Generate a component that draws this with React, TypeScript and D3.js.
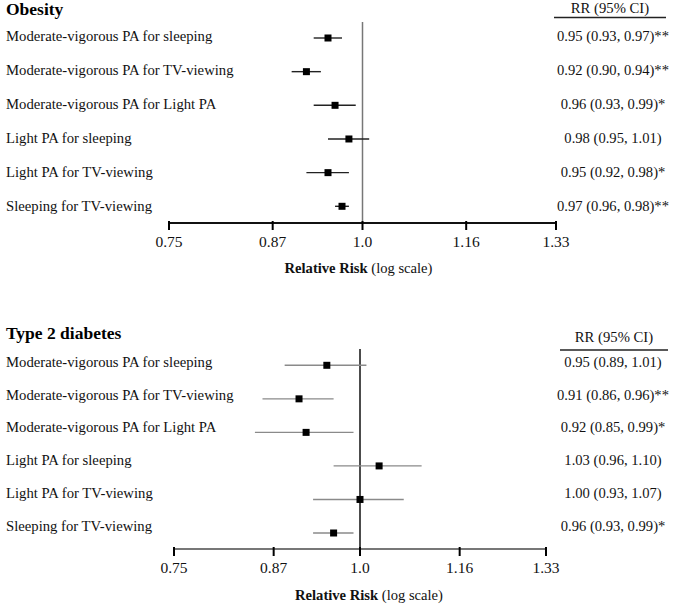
import React from "react";
import * as d3 from "d3";

const rowLabels = [
  "Moderate-vigorous PA for sleeping",
  "Moderate-vigorous PA for TV-viewing",
  "Moderate-vigorous PA for Light PA",
  "Light PA for sleeping",
  "Light PA for TV-viewing",
  "Sleeping for TV-viewing",
];

const obesityRR = [0.95, 0.92, 0.96, 0.98, 0.95, 0.97];
const obesityLo = [0.93, 0.9, 0.93, 0.95, 0.92, 0.96];
const obesityHi = [0.97, 0.94, 0.99, 1.01, 0.98, 0.98];
const obesityText = [
  "0.95 (0.93, 0.97)**",
  "0.92 (0.90, 0.94)**",
  "0.96 (0.93, 0.99)*",
  "0.98 (0.95, 1.01)",
  "0.95 (0.92, 0.98)*",
  "0.97 (0.96, 0.98)**",
];

const diabetesRR = [0.95, 0.91, 0.92, 1.03, 1.0, 0.96];
const diabetesLo = [0.89, 0.86, 0.85, 0.96, 0.93, 0.93];
const diabetesHi = [1.01, 0.96, 0.99, 1.1, 1.07, 0.99];
const diabetesText = [
  "0.95 (0.89, 1.01)",
  "0.91 (0.86, 0.96)**",
  "0.92 (0.85, 0.99)*",
  "1.03 (0.96, 1.10)",
  "1.00 (0.93, 1.07)",
  "0.96 (0.93, 0.99)*",
];

const tickValues = [0.75, 0.875, 1, 7 / 6, 4 / 3];
const tickLabels = ["0.75", "0.87", "1.0", "1.16", "1.33"];
const xDomain = [0.75, 4 / 3];

const FONT = "'Liberation Serif', 'Times New Roman', serif";

type PanelProps = {
  title: string;
  rr: number[];
  lo: number[];
  hi: number[];
  text: string[];
  xRange: [number, number];
  rowY0: number;
  rowY1: number;
  labelY0: number;
  labelY1: number;
  axisY: number;
  vTop: number;
  titleY: number;
  headerY: number;
  headerLineY: number;
  headerLine: [number, number];
  axisTitleX: number;
  axisTitleY: number;
  ciColor: string;
  vColor: string;
  axisColor: string;
};

function Panel(p: PanelProps) {
  const x = d3.scaleLog().domain(xDomain).range(p.xRange);
  const idx = d3.range(p.rr.length);
  const y = d3.scaleLinear().domain([0, p.rr.length - 1]).range([p.rowY0, p.rowY1]);
  const yl = d3.scaleLinear().domain([0, p.rr.length - 1]).range([p.labelY0, p.labelY1]);
  const ms = 7;
  const valX = 613;
  return (
    <g>
      <text x={6} y={p.titleY} fontFamily={FONT} fontWeight="bold" fontSize={17.5} fill="#000">
        {p.title}
      </text>
      <text x={(p.headerLine[0] + p.headerLine[1]) / 2} y={p.headerY} fontFamily={FONT} fontSize={14.7} textAnchor="middle" fill="#111">
        RR (95% CI)
      </text>
      <line x1={p.headerLine[0]} x2={p.headerLine[1]} y1={p.headerLineY} y2={p.headerLineY} stroke="#222" strokeWidth={1.3} />
      {idx.map((i) => (
        <text key={"l" + i} x={6} y={yl(i)} fontFamily={FONT} fontSize={14.7} fill="#111">
          {rowLabels[i]}
        </text>
      ))}
      {idx.map((i) => (
        <text key={"v" + i} x={valX} y={yl(i)} fontFamily={FONT} fontSize={14.6} textAnchor="middle" fill="#111">
          {p.text[i]}
        </text>
      ))}
      <line x1={x(1)} x2={x(1)} y1={p.vTop} y2={p.axisY} stroke={p.vColor} strokeWidth={1.5} />
      {idx.map((i) => (
        <g key={"m" + i}>
          <line x1={x(p.lo[i])} x2={x(p.hi[i])} y1={y(i)} y2={y(i)} stroke={p.ciColor} strokeWidth={1.4} />
          <rect x={x(p.rr[i]) - ms / 2} y={y(i) - ms / 2} width={ms} height={ms} fill="#000" />
        </g>
      ))}
      <line x1={p.xRange[0]} x2={p.xRange[1]} y1={p.axisY} y2={p.axisY} stroke={p.axisColor} strokeWidth={2} />
      {tickValues.map((t, i) => (
        <g key={"t" + i}>
          <line x1={x(t)} x2={x(t)} y1={p.axisY - 2} y2={p.axisY + 7} stroke="#000" strokeWidth={2} />
          <text x={x(t)} y={p.axisY + 24} fontFamily={FONT} fontSize={15.5} textAnchor="middle" fill="#111">
            {tickLabels[i]}
          </text>
        </g>
      ))}
      <text x={p.axisTitleX} y={p.axisTitleY} fontFamily={FONT} fontSize={14.6} textAnchor="middle" fill="#111">
        <tspan fontWeight="bold">Relative Risk</tspan>
        <tspan> (log scale)</tspan>
      </text>
    </g>
  );
}

export default function App() {
  return (
    <svg
      width={674}
      height={606}
      style={{ position: "absolute", left: 0, top: 0, background: "#fff" }}
    >
      <rect x={0} y={0} width={674} height={606} fill="#fff" />
      <Panel
        title="Obesity"
        rr={obesityRR}
        lo={obesityLo}
        hi={obesityHi}
        text={obesityText}
        xRange={[169, 556]}
        rowY0={38}
        rowY1={206.3}
        labelY0={40.7}
        labelY1={210.5}
        axisY={223}
        vTop={22}
        titleY={15}
        headerY={13}
        headerLine={[554, 666]}
        headerLineY={17.5}
        axisTitleX={358.5}
        axisTitleY={273}
        ciColor="#222"
        vColor="#777"
        axisColor="#111"
      />
      <Panel
        title="Type 2 diabetes"
        rr={diabetesRR}
        lo={diabetesLo}
        hi={diabetesHi}
        text={diabetesText}
        xRange={[174, 546]}
        rowY0={365.3}
        rowY1={533}
        labelY0={366.7}
        labelY1={530.7}
        axisY={549}
        vTop={349}
        titleY={339}
        headerY={342}
        headerLine={[560, 668]}
        headerLineY={350}
        axisTitleX={369}
        axisTitleY={600}
        ciColor="#8a8a8a"
        vColor="#111"
        axisColor="#777"
      />
    </svg>
  );
}
